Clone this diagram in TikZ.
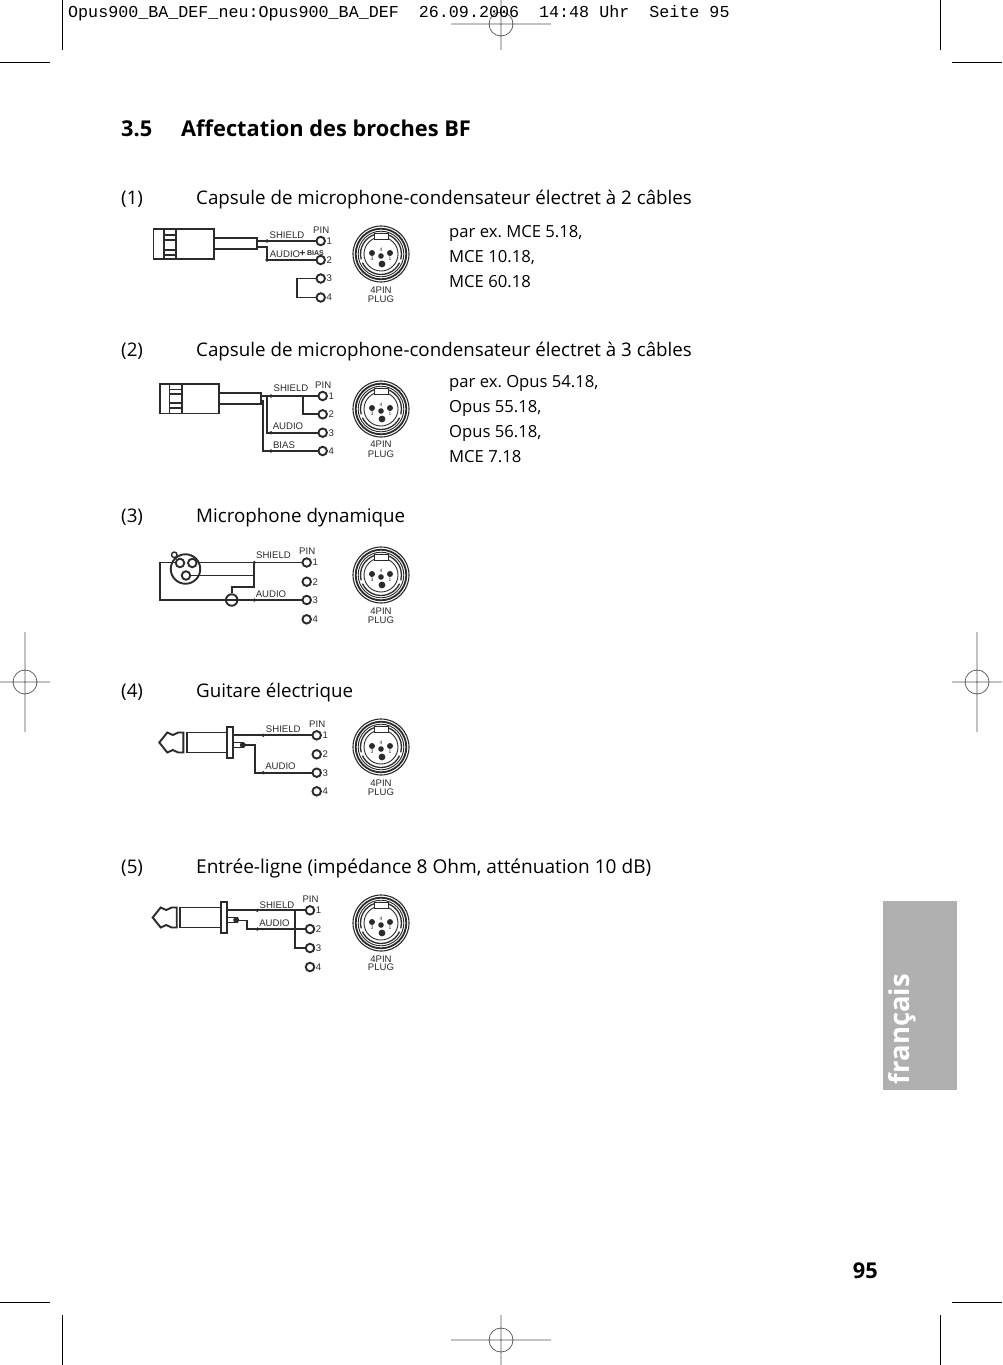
\documentclass[tikz,border=0pt]{standalone}
\usepackage{fontspec}
\setmainfont{Open Sans}
\newfontfamily\hdrfont{Liberation Mono}
\newfontfamily\wirefont{Liberation Sans}
\definecolor{tabgrey}{HTML}{B0B0B0}
\definecolor{wire}{HTML}{2B2B2B}
\definecolor{reggrey}{HTML}{555555}
\frenchspacing
\tikzset{
  body/.style={font=\fontsize{18.75}{22}\selectfont,anchor=base west,inner sep=0pt},
  note/.style={font=\fontsize{16.65}{20}\selectfont,anchor=base west,inner sep=0pt},
  headline/.style={font=\bfseries\fontsize{21.8}{24}\selectfont,anchor=base west,inner sep=0pt},
  wl/.style={font=\wirefont\fontsize{9.6}{10}\selectfont,inner sep=0pt,text=wire},
  cable/.style={draw=wire,line width=1.9pt,line join=miter},
  thick body/.style={draw=wire,line width=1.9pt},
  inner line/.style={draw=wire,line width=1.6pt},
  pin/.style={circle,draw=wire,line width=1.9pt,minimum size=8.5pt,inner sep=0pt,fill=white},
  xpin/.style={circle,draw=wire,line width=1.9pt,minimum size=8.5pt,inner sep=0pt},
  jun/.style={circle,fill=wire,minimum size=3.6pt,inner sep=0pt},
  crop/.style={draw=black,line width=0.7pt},
  reg/.style={draw=reggrey,line width=0.7pt},
}
\newcommand{\pinset}[6]{%
  \node[pin] (#1a) at (#2,#3) {};
  \node[pin] (#1b) at (#2,#4) {};
  \node[pin] (#1c) at (#2,#5) {};
  \node[pin] (#1d) at (#2,#6) {};
  \node[wl,anchor=west] (#1n1) at (#2+5.6,#3) {1};
  \node[wl,anchor=west] (#1n2) at (#2+5.6,#4) {2};
  \node[wl,anchor=west] (#1n3) at (#2+5.6,#5) {3};
  \node[wl,anchor=west] (#1n4) at (#2+5.6,#6) {4};
  \node[wl] (#1pin) at (#2+.5,#3-11) {PIN};
}
\newcommand{\plugface}[5]{%
  \begin{scope}[shift={(#2,#3)}]
    \draw[wire,line width=1.1pt] (0,0) circle (28);
    \draw[wire,line width=1.8pt] (0,0) circle (25.3);
    \draw[wire,line width=.9pt] (0,0) circle (22.8);
    \draw[wire,line width=1.3pt] (165:20.5) arc (165:375:20.5);
    \draw[wire,line width=1.3pt] (25:20.5) arc (25:155:20.5);
    \draw[wire,line width=.9pt] (0,0) circle (17);
    \fill[white] (-7,-20.5) rectangle (7,-14.5);
    \draw[wire,line width=.9pt] (-7,-20.5) rectangle (7,-14.5);
    \fill[wire] (-9,-1) circle (3) (9,-1) circle (3) (0,2) circle (2.8) (1,10) circle (3.4);
    \node[font=\wirefont\fontsize{5}{5}\selectfont,inner sep=0pt,text=wire] at (0,-4.5) {4};
    \node[font=\wirefont\fontsize{5}{5}\selectfont,inner sep=0pt,text=wire] at (-9,4.5) {3};
    \node[font=\wirefont\fontsize{5}{5}\selectfont,inner sep=0pt,text=wire] at (9,4.5) {1};
  \end{scope}
  \node[wl] (#1four) at (#2,#4) {4PIN};
  \node[wl] (#1plug) at (#2,#5) {PLUG};
}
\newcommand{\jack}[1]{%
  \begin{scope}[shift={(#1)}]
    \draw[thick body] (0,0) -- (8,-10) -- (13.5,-7.5) -- (19,-10) -- (24,-10) -- (24,10) -- (19,10) -- (13.5,7.5) -- (8,10) -- cycle;
    \draw[thick body] (27.5,-10) rectangle (68,10);
    \draw[thick body] (68,-15.5) rectangle (74,15.5);
    \draw[inner line] (74,0) rectangle (84,5);
    \fill[wire] (83.5,2.5) circle (3);
  \end{scope}
}
\begin{document}
\begin{tikzpicture}[x=1pt,y=-1pt]
\useasboundingbox (0,0) rectangle (1002,1365);
\fill[white] (0,0) rectangle (1002,1365);
% crop marks
\draw[crop] (62,0)--(62,50) (940,0)--(940,50) (0,62)--(50,62) (952,62)--(1002,62);
\draw[crop] (62,1315)--(62,1365) (940,1315)--(940,1365) (0,1302)--(50,1302) (952,1302)--(1002,1302);
\draw[reg] (451,24)--(551,24) (501,0)--(501,50) (501,24) circle (12);
\draw[reg] (451,1340)--(551,1340) (501,1315)--(501,1365) (501,1340) circle (12);
\draw[reg] (0,682)--(50,682) (25,632)--(25,732) (25,682) circle (12);
\draw[reg] (952,682)--(1002,682) (977,632)--(977,732) (977,682) circle (12);
\node[font=\hdrfont\fontsize{16.7}{18}\selectfont,anchor=west,inner sep=0pt] (hdr) at (68,13) {Opus900\_BA\_DEF\_neu:Opus900\_BA\_DEF\ \ 26.09.2006\ \ 14:48 Uhr\ \ Seite 95};
% title
\node[headline] (titlenum) at (121,136) {3.5};
\node[headline] (title) at (181,136) {Affectation des broches BF};
% item lines
\node[body] (n1) at (121,204) {(1)};
\node[body] (t1) at (196,204) {Capsule de microphone-condensateur électret à 2 câbles};
\node[body] (n2) at (121,356) {(2)};
\node[body] (t2) at (196,356) {Capsule de microphone-condensateur électret à 3 câbles};
\node[body] (n3) at (121,522) {(3)};
\node[body] (t3) at (196,522) {Microphone dynamique};
\node[body] (n4) at (121,697) {(4)};
\node[body] (t4) at (196,697) {Guitare électrique};
\node[body] (n5) at (121,873) {(5)};
\node[body,font=\fontsize{19.05}{22}\selectfont] (t5) at (196,873) {Entrée-ligne (impédance 8 Ohm, atténuation 10 dB)};
% notes
\node[note] (a1) at (449,237) {par ex. MCE 5.18,};
\node[note] (a2) at (449,262) {MCE 10.18,};
\node[note] (a3) at (449,287) {MCE 60.18};
\node[note] (b1) at (449,387) {par ex. Opus 54.18,};
\node[note] (b2) at (449,412) {Opus 55.18,};
\node[note] (b3) at (449,437) {Opus 56.18,};
\node[note] (b4) at (449,462) {MCE 7.18};
% side tab and page number
\fill[tabgrey] (883,901) rectangle (957,1090);
\node[font=\bfseries\fontsize{27.5}{30}\selectfont,text=white,rotate=90,anchor=base,inner sep=0pt] (lang) at (909,1029) {français};
\node[font=\bfseries\fontsize{21.8}{24}\selectfont,anchor=base east,inner sep=0pt] (pageno) at (878,1278) {95};

% ---- diagram 1
\plugface{A}{381}{254}{290}{299}
\draw[thick body] (153.5,229) rectangle (214,259);
\draw[inner line] (164,229)--(164,259) (175.7,229)--(175.7,259);
\draw[inner line] (164,235)--(175.7,235) (164,240)--(175.7,240) (164,250)--(175.7,250) (164,255)--(175.7,255);
\draw[cable] (214,238.3)--(257.3,238.3)--(257.3,249.3)--(214,249.3);
\pinset{A}{320.7}{241}{260}{278.5}{297.5}
\coordinate (Ash) at (257.3,241);
\coordinate (Aau) at (257.3,247.3);
\draw[cable] (Ash)--(Aa);
\draw[cable] (Aau)-|(266.7,260)--(Ab);
\draw[cable] (Ac)-|(296.7,297.5)--(Ad);
\node[jun] (Aj1) at (267,241) {};
\node[jun] (Aj2) at (267,260) {};
\node[wl] (As) at (287,235.5) {SHIELD};
\node[wl] (Aa2) at (285,254) {AUDIO};
\node[wl,font=\wirefont\bfseries\fontsize{10}{10}\selectfont] (Apl) at (302.5,253.3) {+};
\node[wl,font=\wirefont\bfseries\fontsize{7}{8}\selectfont] (Abi) at (315.5,253) {BIAS};

% ---- diagram 2
\plugface{B}{381}{409}{444}{454}
\draw[thick body] (160,384) rectangle (219.3,413.5);
\draw[inner line] (169.3,384)--(169.3,413.5) (181.7,384)--(181.7,413.5);
\draw[inner line] (169.3,389.5)--(181.7,389.5) (169.3,394)--(181.7,394) (169.3,403)--(181.7,403) (169.3,408)--(181.7,408);
\draw[cable] (219.3,393.3)--(260.7,393.3)--(260.7,404)--(219.3,404);
\pinset{B}{322.7}{396}{414.3}{432.7}{451}
\coordinate (Bsh) at (260.7,396);
\coordinate (Bau) at (266.7,397);
\coordinate (Bbi) at (263.3,400);
\coordinate (Btap) at (303.3,396);
\draw[cable] (Bsh)--(Ba);
\draw[cable] (Btap)|-(Bb);
\draw[cable] (Bau)|-(Bc);
\draw[cable] (Bbi)|-(Bd);
\node[jun] (Bj1) at (271,396) {};
\node[jun] (Bj3) at (271,432.7) {};
\node[jun] (Bj4) at (271,451) {};
\node[wl] (Bs) at (291,388.5) {SHIELD};
\node[wl] (Ba2) at (288,426.5) {AUDIO};
\node[wl] (Bb2) at (284,445) {BIAS};

% ---- diagram 3
\plugface{C}{381}{575}{610.7}{620}
\pinset{C}{306.7}{562.5}{581.7}{600}{619.3}
\node[circle,draw=wire,line width=1.9pt,minimum size=29.5pt,inner sep=0pt] (xlr) at (185.5,569) {};
\node[xpin] (xa) at (180,563) {};
\node[xpin] (xb) at (192.3,563) {};
\node[xpin] (xc) at (186,575.5) {};
\node[circle,draw=wire,line width=1.4pt,minimum size=5.5pt,inner sep=0pt] (xk) at (174.3,554.8) {};
\node[circle,draw=wire,line width=1.9pt,minimum size=11.5pt,inner sep=0pt] (gnd) at (231.7,600) {};
\coordinate (Cleft) at (160,562.5);
\coordinate (Cbot) at (160,600);
\coordinate (Ct) at (254.3,562.5);
\coordinate (Cm) at (254.3,575.5);
\coordinate (Cb) at (254.3,587);
\coordinate (Cg) at (231.7,587);
\draw[cable] (xb.east |- Ca)--(Ca);
\draw[cable] (xa.west |- Ca)--(Cleft)--(Cbot)--(Cc);
\draw[cable] (xc)--(Cm);
\draw[cable] (Ct)--(Cb)--(Cg)--(gnd.north);
\node[jun] (Cj1) at (Ct) {};
\node[jun] (Cj2) at (254.3,600) {};
\node[wl] (Cs) at (273.5,555) {SHIELD};
\node[wl] (Ca2) at (271,594) {AUDIO};

% ---- diagram 4
\plugface{D}{381}{747}{783}{792}
\pinset{D}{316.7}{735.3}{754.3}{772.7}{791.3}
\jack{159.3,742.5}
\coordinate (Dsh) at (233.3,735.3);
\coordinate (Dau) at (245,745);
\coordinate (Dk) at (255,745);
\draw[cable] (Dsh)--(Da);
\draw[cable] (Dau)--(Dk)|-(Dc);
\node[jun] (Dj1) at (263.3,735.3) {};
\node[jun] (Dj2) at (263.3,772.7) {};
\node[wl] (Ds) at (283.3,729.5) {SHIELD};
\node[wl] (Da2) at (280.5,766.5) {AUDIO};

% ---- diagram 5
\plugface{E}{381}{923}{958.7}{967.5}
\pinset{E}{310}{910.3}{929}{948}{967}
\jack{152.7,917.5}
\coordinate (Esh) at (226.7,910.3);
\coordinate (Eau) at (238,920.5);
\coordinate (Ek) at (247.3,920.5);
\coordinate (Et) at (295,910.3);
\draw[cable] (Esh)--(Ea);
\draw[cable] (Eau)--(Ek)|-(Eb);
\draw[cable] (Et)|-(Ec);
\node[jun] (Ej1) at (257.3,910.3) {};
\node[jun] (Ej2) at (257.3,929) {};
\node[wl] (Es) at (277,904.7) {SHIELD};
\node[wl] (Ea2) at (274.5,923) {AUDIO};
\end{tikzpicture}
\end{document}
